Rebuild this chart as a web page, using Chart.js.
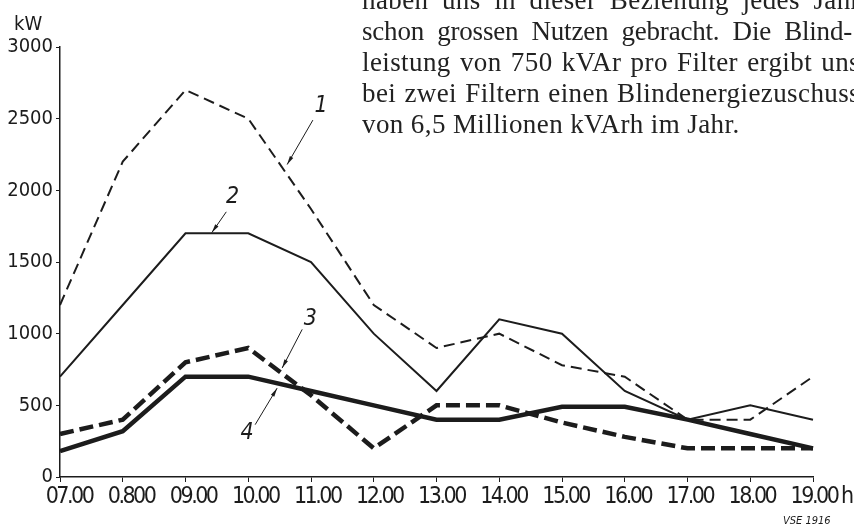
<!DOCTYPE html>
<html>
<head>
<meta charset="utf-8">
<script src="https://cdn.jsdelivr.net/npm/chart.js@4"></script>
<style>
  html, body { margin: 0; padding: 0; background: #fff; overflow: hidden; }
  #wrap { position: relative; width: 854px; height: 525px; overflow: hidden; }
  #note { position: absolute; left: 362px; top: -15px; width: 498px; font-family: 'Liberation Serif', 'DejaVu Serif', serif; font-size: 27px; letter-spacing: 0.4px; line-height: 31px; color: #222; }
  #note div { white-space: nowrap; text-align: justify; text-align-last: justify; }
  #note div.tight { letter-spacing: -0.2px; width: 490px; }
  #note div.last { text-align-last: left; }
</style>
</head>
<body>
<div id="wrap">
  <canvas id="c" width="854" height="525"></canvas>
  <div id="note">
    <div>haben uns in dieser Beziehung jedes Jahr</div>
    <div class="tight">schon grossen Nutzen gebracht. Die Blind-</div>
    <div>leistung von 750 kVAr pro Filter ergibt uns</div>
    <div>bei zwei Filtern einen Blindenergiezuschuss</div>
    <div class="last">von 6,5 Millionen kVArh im Jahr.</div>
  </div>
</div>
<script>
const hours = ['07.00', '0.800', '09.00', '10.00', '11.00', '12.00', '13.00', '14.00', '15.00', '16.00', '17.00', '18.00', '19.00'];
const curve1 = [1200, 2200, 2700, 2500, 1870, 1200, 900, 1000, 780, 700, 400, 400, 700];
const curve2 = [700, 1200, 1700, 1700, 1500, 1000, 600, 1100, 1000, 600, 400, 500, 400];
const curve3 = [300, 400, 800, 900, 570, 200, 500, 500, 380, 280, 200, 200, 200];
const curve4 = [180, 320, 700, 700, 600, 500, 400, 400, 490, 490, 400, 300, 200];
const yTicks = [0, 500, 1000, 1500, 2000, 2500, 3000];

// curve numbers with leader lines, in data units (x = hour index, y = kW)
const callouts = [
  { t: '1', at: [4.16, 2590], from: [4.03, 2490], to: [3.62, 2180] },
  { t: '2', at: [2.75, 1950], from: [2.65, 1850], to: [2.42, 1705] },
  { t: '3', at: [3.99, 1100], from: [3.86, 1030], to: [3.54, 760] },
  { t: '4', at: [2.98, 310], from: [3.11, 365], to: [3.46, 620] }
];

const ink = '#1c1c1c';
const axisFont = "'DejaVu Sans Condensed', 'DejaVu Sans', sans-serif";

const extras = {
  id: 'extras',
  afterDraw(chart) {
    const { ctx, scales: { x, y } } = chart;
    const px = v => x.getPixelForValue(v), py = v => y.getPixelForValue(v);
    ctx.save();
    ctx.fillStyle = ink; ctx.strokeStyle = ink;
    ctx.textBaseline = 'middle';
    ctx.font = '20px ' + axisFont;
    ctx.fillText('kW', 14, 25);

    // hour labels: printed a bit tighter than the tick spacing
    ctx.font = '23px ' + axisFont;
    ctx.letterSpacing = '-2.5px';
    ctx.textAlign = 'center';
    hours.forEach((h, i) => ctx.fillText(h, px(i) + 9 - i * 0.67, 497));
    ctx.textAlign = 'left';
    ctx.fillText('h', px(hours.length - 1) + 28, 497);
    ctx.letterSpacing = '0px';

    ctx.font = 'italic 11px ' + axisFont;
    ctx.fillText('VSE 1916', 783, 521);

    callouts.forEach(c => {
      ctx.font = 'italic 23px ' + axisFont;
      ctx.textAlign = 'center';
      ctx.fillText(c.t, px(c.at[0]), py(c.at[1]));
      const x0 = px(c.from[0]), y0 = py(c.from[1]), x1 = px(c.to[0]), y1 = py(c.to[1]);
      ctx.lineWidth = 1;
      ctx.beginPath(); ctx.moveTo(x0, y0); ctx.lineTo(x1, y1); ctx.stroke();
      const a = Math.atan2(y1 - y0, x1 - x0);
      ctx.beginPath();
      ctx.moveTo(x1, y1);
      ctx.lineTo(x1 - 9 * Math.cos(a - 0.22), y1 - 9 * Math.sin(a - 0.22));
      ctx.lineTo(x1 - 9 * Math.cos(a + 0.22), y1 - 9 * Math.sin(a + 0.22));
      ctx.closePath(); ctx.fill();
    });
    ctx.restore();
  }
};

new Chart(document.getElementById('c'), {
  type: 'line',
  data: {
    labels: hours,
    datasets: [
      { data: curve1, borderColor: ink, borderWidth: 2, borderDash: [11, 6] },
      { data: curve2, borderColor: ink, borderWidth: 2 },
      { data: curve3, borderColor: ink, borderWidth: 4.5, borderDash: [14, 6] },
      { data: curve4, borderColor: ink, borderWidth: 4.5 }
    ]
  },
  options: {
    responsive: false,
    animation: false,
    events: [],
    layout: { padding: { top: 47, right: 41, left: 0, bottom: 0 } },
    elements: { point: { radius: 0 }, line: { tension: 0, fill: false, borderJoinStyle: 'miter' } },
    plugins: { legend: { display: false }, tooltip: { enabled: false } },
    scales: {
      x: {
        offset: false,
        afterFit: s => { s.height = 48; },
        border: { color: ink, width: 1.5 },
        grid: { drawOnChartArea: false, color: ink, tickLength: 5 },
        ticks: { display: false, autoSkip: false }
      },
      y: {
        min: 0, max: 3000,
        afterFit: s => { s.width = 60; },
        afterBuildTicks: s => { s.ticks = yTicks.map(v => ({ value: v })); },
        border: { color: ink, width: 1.5 },
        grid: { drawOnChartArea: false, color: ink, tickLength: 4 },
        ticks: { color: ink, font: { family: axisFont, size: 20 }, padding: 3, callback: v => String(v) }
      }
    }
  },
  plugins: [extras]
});
</script>
</body>
</html>
